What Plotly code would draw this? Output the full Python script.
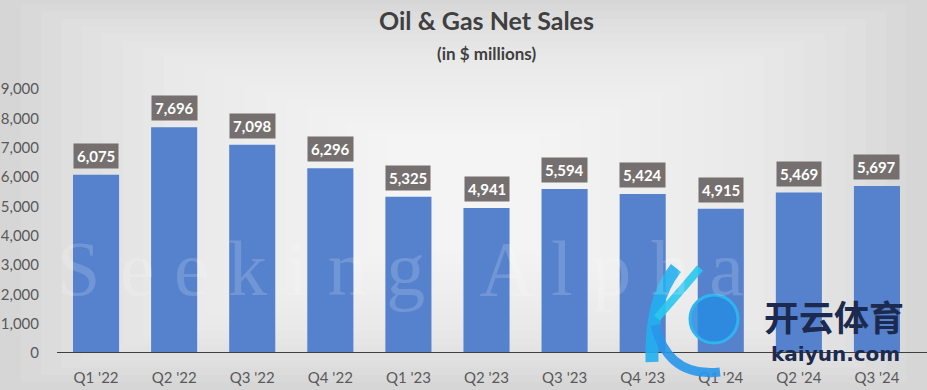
import plotly.graph_objects as go

quarters = ["Q1 '22", "Q2 '22", "Q3 '22", "Q4 '22", "Q1 '23", "Q2 '23",
            "Q3 '23", "Q4 '23", "Q1 '24", "Q2 '24", "Q3 '24"]
net_sales = [6075, 7696, 7098, 6296, 5325, 4941, 5594, 5424, 4915, 5469, 5697]
y_ticks = [0, 1000, 2000, 3000, 4000, 5000, 6000, 7000, 8000, 9000]

FONT = "Lato, Carlito, Calibri, sans-serif"
L, R, T, B = 57, 11, 89, 37
PW, PH = 927 - L - R, 390 - T - B


def px(x):
    return (x - L) / PW


def py(y):
    return (390 - B - y) / PH


fig = go.Figure()
fig.add_trace(go.Bar(
    x=quarters, y=net_sales,
    marker=dict(color="#5581CD", line=dict(width=0)),
    hoverinfo="x+y",
))

# data labels
for q, v in zip(quarters, net_sales):
    fig.add_annotation(
        x=q, y=v, yshift=19, text=f"<b>{v:,}</b>", showarrow=False,
        xanchor="center", yanchor="middle",
        font=dict(family=FONT, size=15, color="white"),
        bgcolor="#75706F", borderpad=3,
    )

# title & subtitle
fig.add_annotation(xref="paper", yref="paper", x=0.5, y=1, yshift=69, text="<b>Oil & Gas Net Sales</b>",
                   showarrow=False, xanchor="center", yanchor="middle",
                   font=dict(family=FONT, size=25, color="#404040"))
fig.add_annotation(xref="paper", yref="paper", x=0.5, y=1, yshift=36, text="<b>(in $ millions)</b>",
                   showarrow=False, xanchor="center", yanchor="middle",
                   font=dict(family=FONT, size=17, color="#404040"))

# background pseudo radial gradient
shapes = []
n = 20
for i in range(n):
    f = i / n
    shapes.append(dict(
        type="rect", xref="paper", yref="paper", layer="below",
        x0=-0.066 + 0.5 * f * 0.95, x1=1.013 - 0.5 * f * 0.95,
        y0=-0.14 + 0.62 * f * 0.9, y1=1.35 - 0.62 * f * 0.9,
        fillcolor="white", opacity=0.085, line=dict(width=0),
    ))
# axis line
shapes.append(dict(type="line", xref="paper", yref="y", x0=0, x1=1.02, y0=0, y1=0,
                   line=dict(color="#3F3F3F", width=2), layer="above"))
# logo swoosh (K) and ball
shapes.append(dict(type="path", xref="paper", yref="paper", layer="above",
                   path=f"M {px(676)},{py(268)} Q {px(650)},{py(300)} {px(652)},{py(362)}",
                   line=dict(color="rgba(35,175,240,0.9)", width=13)))
shapes.append(dict(type="path", xref="paper", yref="paper", layer="above",
                   path=f"M {px(655)},{py(325)} Q {px(668)},{py(378)} {px(720)},{py(372)}",
                   line=dict(color="rgba(40,150,235,0.9)", width=9)))
shapes.append(dict(type="path", xref="paper", yref="paper", layer="above",
                   path=f"M {px(657)},{py(318)} Q {px(690)},{py(280)} {px(700)},{py(268)}",
                   line=dict(color="rgba(40,200,240,0.9)", width=8)))
shapes.append(dict(type="circle", xref="paper", yref="paper", layer="above",
                   x0=px(690), x1=px(738), y0=py(343), y1=py(295),
                   fillcolor="rgba(40,140,225,0.85)", line=dict(color="#2fb4f0", width=3)))

# watermark
fig.add_annotation(
    xref="paper", yref="paper", x=px(400), y=py(268), text="S e e k i n g   A l p h a",
    showarrow=False, xanchor="center", yanchor="middle",
    font=dict(family="Liberation Serif, serif", size=78, color="rgba(255,255,255,0.17)"),
)

# kaiyun overlay text
fig.add_annotation(xref="paper", yref="paper", x=px(834), y=py(315),
                   text="<b>开云体育</b>", showarrow=False, xanchor="center", yanchor="middle",
                   font=dict(family="Noto Sans CJK SC", size=35, color="#1B2A4E"))
fig.add_annotation(xref="paper", yref="paper", x=px(835), y=py(354),
                   text="<b>kaiyun.com</b>", showarrow=False, xanchor="center", yanchor="middle",
                   font=dict(family="DejaVu Sans, sans-serif", size=20, color="#1B2A4E"))

fig.update_layout(
    width=927, height=390,
    margin=dict(l=L, r=R, t=T, b=B),
    paper_bgcolor="#D3D3D3", plot_bgcolor="rgba(0,0,0,0)",
    shapes=shapes,
    bargap=0.41,
    showlegend=False,
    xaxis=dict(
        showline=False, showgrid=False, ticks="", ticklabelstandoff=14, automargin=False,
        tickfont=dict(family=FONT, size=15, color="#595959"),
    ),
    yaxis=dict(
        range=[0, 9000], tickvals=y_ticks, tickformat=",", showgrid=False, zeroline=False,
        showline=False, ticks="", ticklabelstandoff=17, automargin=False,
        tickfont=dict(family=FONT, size=15, color="#595959"),
    ),
)

fig.write_html("out.html", config={"displayModeBar": False},
               post_script="document.body.style.margin='0';")
